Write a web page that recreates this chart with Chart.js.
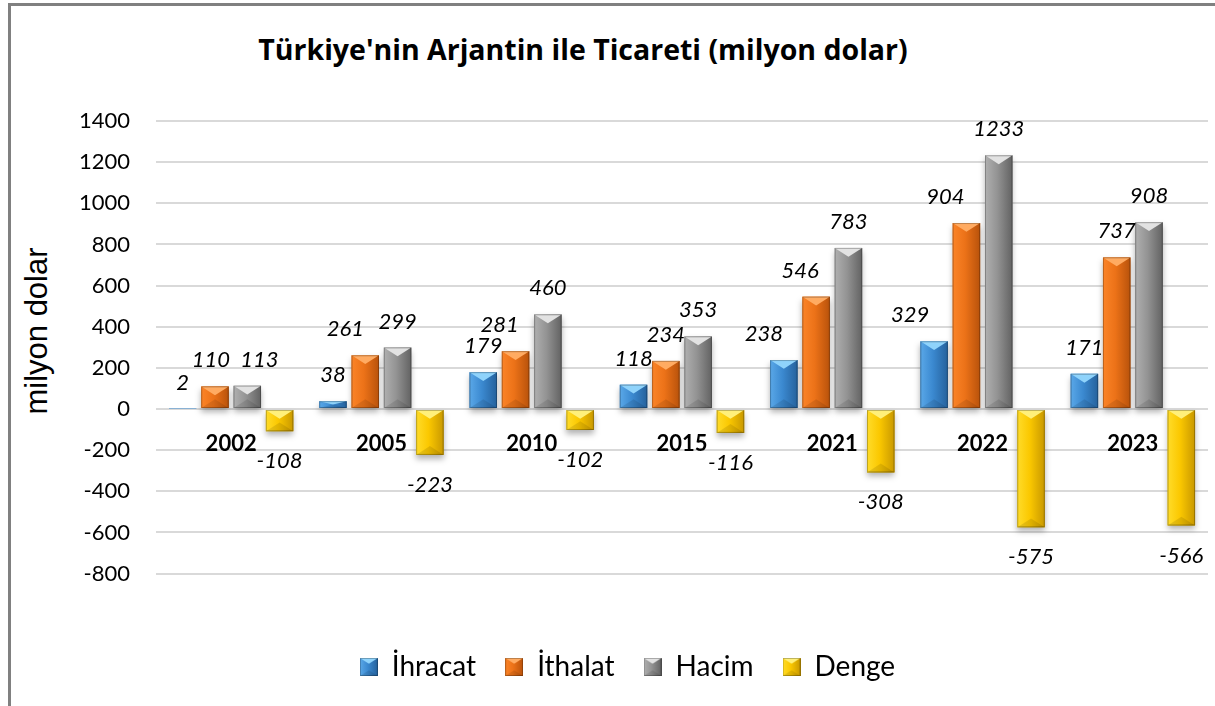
<!DOCTYPE html>
<html>
<head>
<meta charset="utf-8">
<script src="https://cdn.jsdelivr.net/npm/chart.js@4"></script>
<style>
  body { margin: 0; width: 1215px; height: 706px; overflow: hidden; position: relative; background: #fff; }
  #frame { position: absolute; left: 8px; top: 3px; width: 1300px; height: 800px;
           border-top: 3px solid #808080; border-left: 3px solid #808080; }
  #title { position: absolute; left: 0; width: 1166px; top: 30px; line-height: 40px; text-align: center;
           font: bold 28.5px "Open Sans", sans-serif; color: #000; }
  #ytitle { position: absolute; left: 37px; top: 331px; transform: translate(-50%, -50%) rotate(-90deg);
            white-space: nowrap; font: 31px "Liberation Sans", sans-serif; color: #000; }
  #c { position: absolute; left: 12px; top: 6px; }
</style>
</head>
<body>
<div id="frame"></div>
<div id="title">Türkiye'nin Arjantin ile Ticareti (milyon dolar)</div>
<div id="ytitle">milyon dolar</div>
<canvas id="c" width="1228" height="700"></canvas>
<script>
const years = ['2002', '2005', '2010', '2015', '2021', '2022', '2023'];
const ihracat = [2, 38, 179, 118, 238, 329, 171];
const ithalat = [110, 261, 281, 234, 546, 904, 737];
const hacim = [113, 299, 460, 353, 783, 1233, 908];
const denge = [-108, -223, -102, -116, -308, -575, -566];
const seriesNames = ['İhracat', 'İthalat', 'Hacim', 'Denge'];

// bevel look of the Excel bars
const tones = [
  { light: '#5aa8e8', mid: '#3b89d0', dark: '#25619c', top: '#8fd3fb' },
  { light: '#fb8428', mid: '#ec7218', dark: '#b8520b', top: '#ffab62' },
  { light: '#b0b0b0', mid: '#939393', dark: '#626262', top: '#e2e2e2' },
  { light: '#ffdc2a', mid: '#fbc800', dark: '#c89800', top: '#fff07a' }
];

// Excel labels that were dragged aside (series:index -> px)
const labelNudge = { '0:4': -20, '0:5': -24, '1:0': -4, '1:1': -20, '1:2': -16, '1:4': -16, '1:5': -21, '2:0': 12 };

function paintBar(ctx, l, t, w, h, tone, shadow) {
  const r = l + w, b = t + h;
  ctx.save();
  if (shadow) {
    ctx.shadowColor = 'rgba(0,0,0,0.3)';
    ctx.shadowBlur = 6;
    ctx.shadowOffsetY = 4;
  }
  const g = ctx.createLinearGradient(l, 0, r, 0);
  g.addColorStop(0, tone.light);
  g.addColorStop(0.45, tone.mid);
  g.addColorStop(1, tone.dark);
  ctx.fillStyle = g;
  ctx.fillRect(l, t, w, h);
  ctx.shadowColor = 'transparent';
  const bv = Math.min(w * 0.32, h / 2);
  ctx.fillStyle = tone.top;
  ctx.beginPath();
  ctx.moveTo(l, t); ctx.lineTo(r, t); ctx.lineTo(l + w / 2, t + bv); ctx.closePath();
  ctx.fill();
  ctx.fillStyle = 'rgba(0,0,0,0.1)';
  ctx.beginPath();
  ctx.moveTo(l, b); ctx.lineTo(r, b); ctx.lineTo(l + w / 2, b - bv); ctx.closePath();
  ctx.fill();
  ctx.strokeStyle = 'rgba(0,0,0,0.25)';
  ctx.lineWidth = 1;
  ctx.strokeRect(l + 0.5, t + 0.5, w - 1, h - 1);
  ctx.restore();
}

const swatches = tones.map(tone => {
  const cv = document.createElement('canvas');
  cv.width = 18; cv.height = 18;
  paintBar(cv.getContext('2d'), 0, 0, 18, 18, tone, false);
  return cv;
});

const barLook = {
  id: 'barLook',
  afterDatasetsDraw(chart) {
    const ctx = chart.ctx;
    chart.data.datasets.forEach((ds, di) => {
      chart.getDatasetMeta(di).data.forEach(bar => {
        const t = Math.min(bar.y, bar.base);
        const h = Math.abs(bar.base - bar.y);
        if (h < 1) return;
        paintBar(ctx, bar.x - bar.width / 2, t, bar.width, h, tones[di], true);
      });
    });
  }
};

const valueLabels = {
  id: 'valueLabels',
  afterDatasetsDraw(chart) {
    const ctx = chart.ctx;
    ctx.save();
    ctx.font = 'italic 22px Lato';
    ctx.fillStyle = '#000';
    ctx.textAlign = 'center';
    ctx.textBaseline = 'middle';
    chart.data.datasets.forEach((ds, di) => {
      chart.getDatasetMeta(di).data.forEach((bar, i) => {
        const v = ds.data[i];
        const dx = labelNudge[di + ':' + i] || 0;
        const y = v >= 0 ? bar.y - 26 : bar.y + 30;
        ctx.fillText(String(v), bar.x + dx, y);
      });
    });
    ctx.restore();
  }
};

const allSeries = [ihracat, ithalat, hacim, denge];

new Chart(document.getElementById('c'), {
  type: 'bar',
  data: {
    labels: years,
    datasets: allSeries.map((vals, i) => ({
      label: seriesNames[i],
      data: vals,
      backgroundColor: tones[i].mid,
      categoryPercentage: 0.86,
      barPercentage: 0.85
    }))
  },
  options: {
    responsive: false,
    animation: false,
    layout: { padding: { top: 115, left: 35, right: 32, bottom: 15 } },
    scales: {
      x: {
        position: { y: 0 },
        grid: { display: false, drawTicks: false },
        border: { display: false },
        ticks: { color: '#000', font: { family: 'Lato', size: 22, weight: 'bold' }, padding: 22 }
      },
      y: {
        min: -800,
        max: 1400,
        ticks: {
          stepSize: 200, color: '#000', font: { family: 'Lato', size: 22 }, padding: 26,
          callback: v => String(v)
        },
        grid: { color: '#d9d9d9', lineWidth: 2, drawTicks: false },
        border: { display: false },
        afterFit: s => { s.width = 109; }
      }
    },
    plugins: {
      tooltip: { enabled: false },
      legend: {
        position: 'bottom',
        title: { display: true, text: '', padding: { top: 36, bottom: 0 }, font: { size: 12 } },
        labels: {
          usePointStyle: true,
          boxWidth: 18,
          boxHeight: 18,
          padding: 29,
          color: '#000',
          font: { family: 'Lato', size: 28 },
          generateLabels: chart => Chart.defaults.plugins.legend.labels.generateLabels(chart)
            .map((item, i) => Object.assign(item, { pointStyle: swatches[i] }))
        }
      }
    }
  },
  plugins: [barLook, valueLabels]
});
</script>
</body>
</html>
